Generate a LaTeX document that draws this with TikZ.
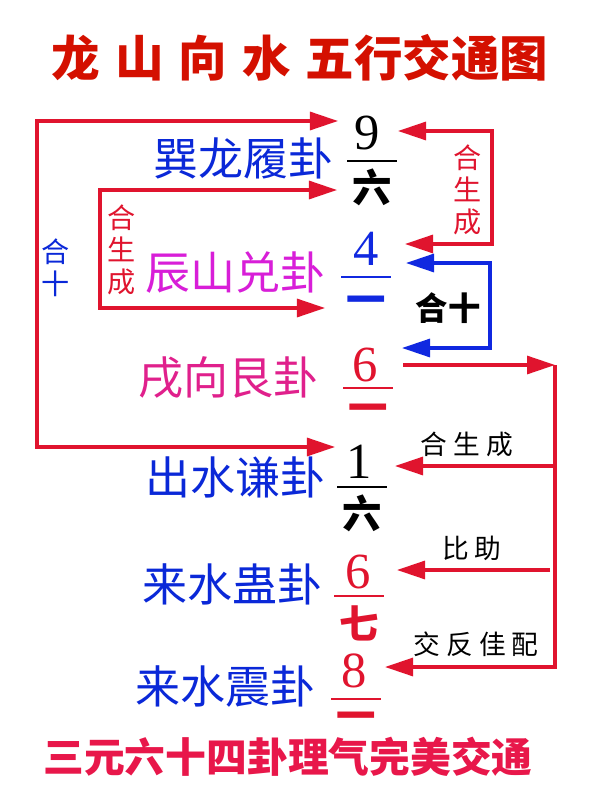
\documentclass[tikz,border=0pt]{standalone}
\usepackage{fontspec}
\usetikzlibrary{arrows.meta}
\newfontfamily\cjk{Noto Sans CJK SC}
\newfontfamily\digits{Liberation Serif}
\definecolor{linkred}{HTML}{E0142E}
\definecolor{linkblue}{HTML}{1028E0}
\definecolor{guablue}{HTML}{0A28D8}
\definecolor{guapink}{HTML}{D81ED8}
\definecolor{guarose}{HTML}{E0208C}
\definecolor{titlered}{HTML}{D41000}
\definecolor{footred}{HTML}{E8174A}
\newcommand{\gapsp}{\hspace{0.15cm}}
\tikzset{
  gua/.style={font=\cjk\fontsize{32}{32}\selectfont, anchor=west, inner sep=0pt},
  numer/.style={font=\digits\fontsize{36}{36}\selectfont, inner sep=0pt},
  denom/.style={font=\cjk\bfseries\fontsize{28}{28}\selectfont, inner sep=0pt},
  note/.style={font=\cjk\fontsize{19}{19}\selectfont, inner sep=0pt},
  vnote/.style={font=\cjk\fontsize{20}{22.8}\selectfont, align=center, inner sep=0pt},
  link/.style={line width=2.2pt, {Triangle[length=7mm,width=4.5mm]}-{Triangle[length=7mm,width=4.5mm]}},
  tolink/.style={line width=2.2pt, -{Triangle[length=7mm,width=4.5mm]}},
}
\begin{document}
\begin{tikzpicture}[x=0.025cm,y=-0.025cm]
  \fill[white] (0,0) rectangle (600,801);
  \useasboundingbox (0,0) rectangle (600,801);
  % Title
  \node[font=\cjk\bfseries\fontsize{34.5}{34.5}\selectfont, text=titlered, inner sep=0pt] (title) at (300,58)
    {龙\hspace{0.375cm}山\hspace{0.375cm}向\hspace{0.375cm}水\hspace{0.375cm}五行交通图};
  % Gua names
  \node[gua, text=guablue] (xun) at (153,158) {巽龙履卦};
  \node[gua, text=guapink] (chen) at (145,273) {辰山兑卦};
  \node[gua, text=guarose] (xu) at (138,378) {戌向艮卦};
  \node[gua, text=guablue] (chu) at (145,477) {出水谦卦};
  \node[gua, text=guablue] (gu) at (142,584) {来水蛊卦};
  \node[gua, text=guablue] (zhen) at (135,687) {来水震卦};
  % Fractions
  \foreach \n/\up/\dn/\col/\xb/\xn/\yn/\yb/\yd in {
      1/9/六/black/372/367/133/161/187,
      2/4/一/linkblue/366/366/249/277/305,
      3/6/一/linkred/368/365/365/388/413,
      4/1/六/black/362/359/462/487/513,
      5/6/七/linkred/359/358/572/596/623,
      6/8/一/linkred/356/354/671/699/721} {
    \node[numer, text=\col] (up\n) at (\xn,\yn) {\up};
    \draw[\col, line width=1pt] (\xb-25,\yb) -- (\xb+25,\yb);
    \node[denom, text=\col] (dn\n) at (\xb,\yd) {\dn};
  }
  % Outer loop
  \coordinate (o9) at (338,121);
  \coordinate (o1) at (335,447);
  \coordinate (oleft) at (37,300);
  \draw[link, linkred] (o9) -| (oleft) |- (o1);
  % Inner loop
  \coordinate (i9) at (337,190);
  \coordinate (i4) at (325,308);
  \coordinate (ileft) at (100,250);
  \draw[link, linkred] (i9) -| (ileft) |- (i4);
  % Right bracket, red
  \coordinate (r9) at (398,131);
  \coordinate (r4) at (405,244);
  \coordinate (rrail) at (492,190);
  \draw[link, linkred] (r9) -| (rrail) |- (r4);
  % Right bracket, blue
  \coordinate (b4) at (406,263);
  \coordinate (b6) at (402,348);
  \coordinate (brail) at (490,300);
  \draw[link, linkblue] (b4) -| (brail) |- (b6);
  % Rail from 6 down to the water
  \coordinate (s6) at (403,365);
  \coordinate (rail) at (555,365);
  \coordinate (rail1) at (555,466);
  \coordinate (rail2) at (550,570);
  \coordinate (t1) at (395,466);
  \coordinate (t2) at (397,570);
  \coordinate (t3) at (385,667);
  \draw[tolink, linkred] (s6) -- (rail);
  \draw[tolink, linkred] (rail) |- (t3);
  \draw[tolink, linkred] (rail1) -- (t1);
  \draw[tolink, linkred] (rail2) -- (t2);
  % Notes
  \node[vnote, text=guablue] (heshiA) at (56,268) {合\\十};
  \node[vnote, text=linkred] (hechengA) at (122,250) {合\\生\\成};
  \node[vnote, text=linkred] (hechengB) at (468,190) {合\\生\\成};
  \node[font=\cjk\bfseries\fontsize{23}{23}\selectfont, inner sep=0pt] (heshiB) at (448,308) {合十};
  \node[note] (hechengC) at (467,444) {合\gapsp 生\gapsp 成};
  \node[note] (bizhu) at (472,548) {比\gapsp 助};
  \node[note] (jiaofan) at (476,644) {交\gapsp 反\gapsp 佳\gapsp 配};
  % Footer
  \node[font=\cjk\bfseries\fontsize{29}{29}\selectfont, text=footred, inner sep=0pt] (foot) at (288,757)
    {三元六十四卦理气完美交通};
\end{tikzpicture}
\end{document}
